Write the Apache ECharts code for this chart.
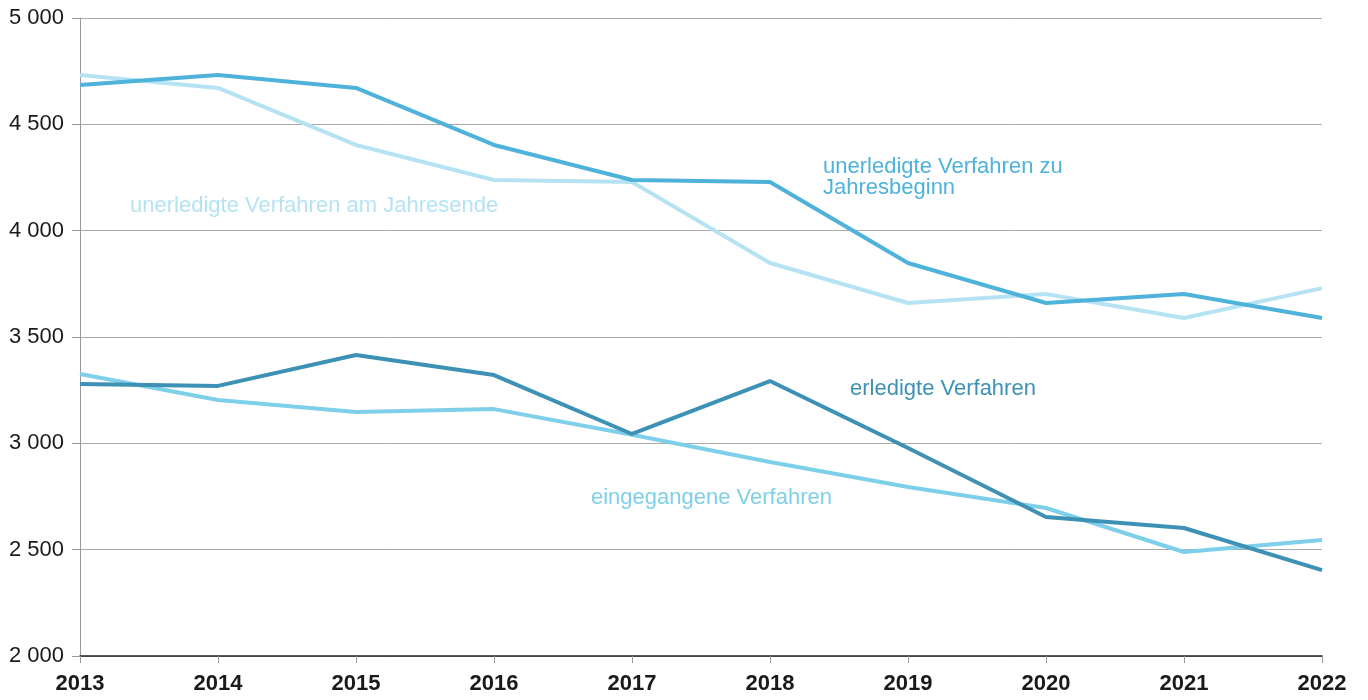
<!DOCTYPE html>
<html>
<head>
<meta charset="utf-8">
<script src="https://cdn.jsdelivr.net/npm/echarts@6/dist/echarts.min.js"></script>
<style>
  html, body { margin: 0; padding: 0; background: #fff; }
  #chart { width: 1368px; height: 700px; }
</style>
</head>
<body>
<div id="chart"></div>
<script>
const jahre = ['2013', '2014', '2015', '2016', '2017', '2018', '2019', '2020', '2021', '2022'];
const jahresbeginn = [4685, 4732, 4671, 4403, 4238, 4229, 3848, 3660, 3702, 3589];
const jahresende = [4732, 4671, 4403, 4238, 4229, 3848, 3660, 3702, 3589, 3730];
const erledigt = [3279, 3270, 3415, 3321, 3044, 3293, 2978, 2654, 2602, 2404];
const eingegangen = [3326, 3204, 3147, 3161, 3040, 2912, 2795, 2696, 2489, 2545];

const fam = '"Liberation Sans", Arial, sans-serif';
const fmt = v => String(v).replace(/\B(?=(\d{3})+(?!\d))/g, ' ');

const linie = (name, data, color) => ({
  name, type: 'line', data,
  symbol: 'none',
  lineStyle: { color, width: 4 },
  itemStyle: { color },
  animation: false
});

const chart = echarts.init(document.getElementById('chart'));
chart.setOption({
  grid: { left: 80, right: 46, top: 18, bottom: 44 },
  xAxis: {
    type: 'category', data: jahre, boundaryGap: false,
    axisLine: { lineStyle: { color: '#222', width: 1.5 } },
    axisTick: { length: 7, lineStyle: { color: '#999' } },
    axisLabel: { color: '#1a1a1a', fontFamily: fam, fontSize: 22, fontWeight: 'bold', margin: 17 }
  },
  yAxis: {
    type: 'value', min: 2000, max: 5000, interval: 500,
    axisLine: { show: true, lineStyle: { color: '#999' } },
    axisTick: { show: true, length: 8, lineStyle: { color: '#999' } },
    splitLine: { lineStyle: { color: '#aaa' } },
    axisLabel: { color: '#1a1a1a', fontFamily: fam, fontSize: 22, margin: 16, formatter: fmt }
  },
  series: [
    linie('unerledigte Verfahren am Jahresende', jahresende, '#b5e3f3'),
    linie('unerledigte Verfahren zu Jahresbeginn', jahresbeginn, '#4eb2da'),
    linie('eingegangene Verfahren', eingegangen, '#7ecfe9'),
    linie('erledigte Verfahren', erledigt, '#3d91b4')
  ],
  graphic: [
    { type: 'text', left: 130, top: 195, style: { text: 'unerledigte Verfahren am Jahresende', fill: '#b5e3f3', font: '22px ' + fam } },
    { type: 'text', left: 823, top: 156, style: { text: 'unerledigte Verfahren zu\nJahresbeginn', fill: '#4eb2da', font: '22px ' + fam, lineHeight: 21 } },
    { type: 'text', left: 850, top: 378, style: { text: 'erledigte Verfahren', fill: '#3d91b4', font: '22px ' + fam } },
    { type: 'text', left: 591, top: 487, style: { text: 'eingegangene Verfahren', fill: '#7ecfe9', font: '22px ' + fam } }
  ]
});
</script>
</body>
</html>
